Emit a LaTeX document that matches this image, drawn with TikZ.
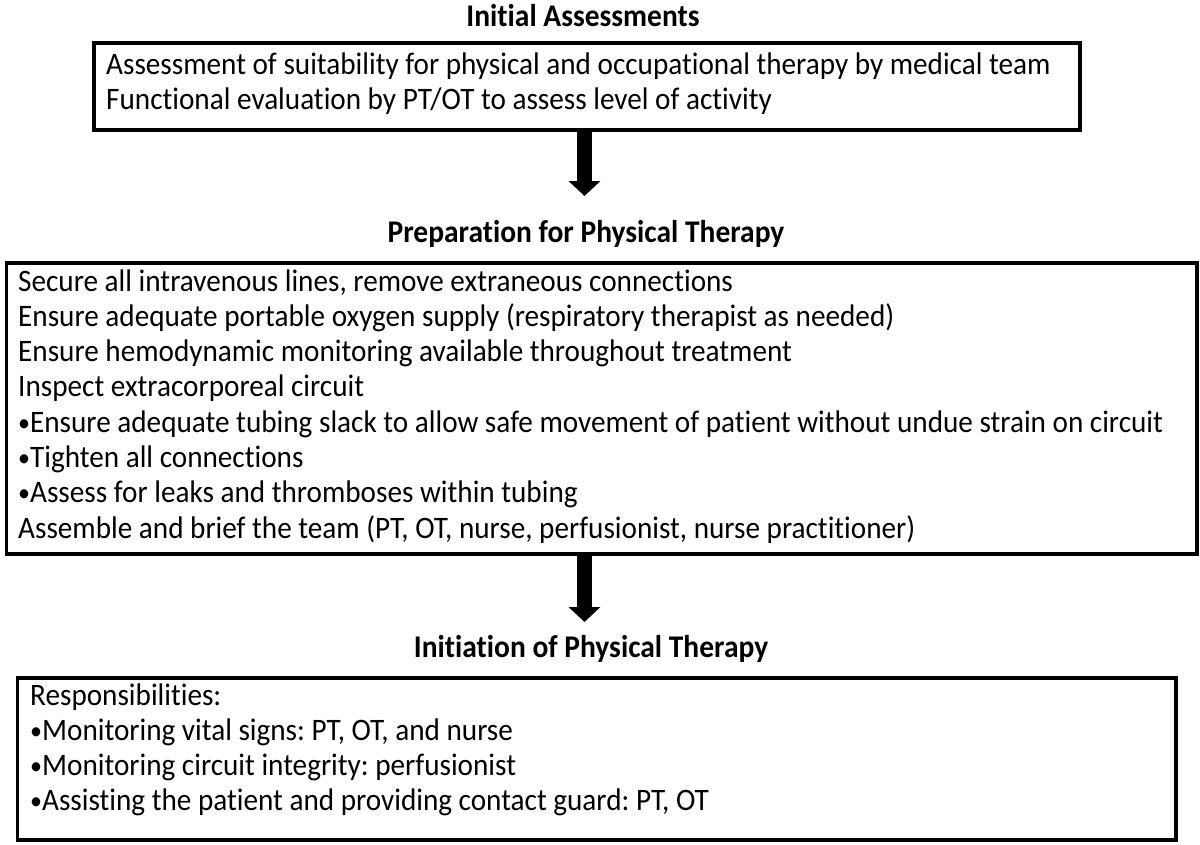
\documentclass[tikz,border=0pt]{standalone}
\usepackage{fontspec}
\setmainfont{Carlito}[Ligatures=NoCommon]
\usetikzlibrary{arrows.meta}
\frenchspacing
\newcommand{\tx}[1]{\scalebox{1}[1.07]{#1}}
\newcommand{\blt}{{\fontsize{24}{24}\selectfont\raisebox{1pt}{•}}}
\begin{document}
\begin{tikzpicture}[x=1pt,y=-1pt,
  box/.style={draw=black, line width=3.5pt, anchor=north west, inner sep=0pt},
  txt/.style={anchor=base west, inner sep=0pt, font=\fontsize{29.2}{35}\selectfont},
  ttl/.style={anchor=base, inner sep=0pt, font=\bfseries\fontsize{29.5}{34}\selectfont},
  flow/.style={line width=15pt, -{Triangle[width=31pt,length=15pt]}}]
\useasboundingbox (0,0) rectangle (1200,844);

% titles
\node[ttl] (t1) at (583,26) {\tx{Initial Assessments}};
\node[ttl] (t2) at (586,242) {\tx{Preparation for Physical Therapy}};
\node[ttl] (t3) at (591,657) {\tx{Initiation of Physical Therapy}};

% boxes
\node[box, minimum width=986pt, minimum height=87pt] (b1) at (92,41) {};
\node[box, minimum width=1190.5pt, minimum height=291pt] (b2) at (4.5,261) {};
\node[box, minimum width=1158.5pt, minimum height=162pt] (b3) at (15.5,676) {};

% box 1 text
\node[txt] (l11) at (106,74) {\tx{Assessment of suitability for physical and occupational therapy by medical team}};
\node[txt] (l12) at (106,109.5) {\tx{Functional evaluation by PT/OT to assess level of activity}};

% box 2 text
\node[txt] (l21) at (18,291) {\tx{Secure all intravenous lines, remove extraneous connections}};
\node[txt] (l22) at (18,326.3) {\tx{Ensure adequate portable oxygen supply (respiratory therapist as needed)}};
\node[txt] (l23) at (18,361.6) {\tx{Ensure hemodynamic monitoring available throughout treatment}};
\node[txt] (l24) at (18,396.9) {\tx{Inspect extracorporeal circuit}};
\node[txt] (l25) at (18,432.2) {\tx{\blt Ensure adequate tubing slack to allow safe movement of patient without undue strain on circuit}};
\node[txt] (l26) at (18,467.5) {\tx{\blt Tighten all connections}};
\node[txt] (l27) at (18,502.8) {\tx{\blt Assess for leaks and thromboses within tubing}};
\node[txt] (l28) at (18,538.1) {\tx{Assemble and brief the team (PT, OT, nurse, perfusionist, nurse practitioner)}};

% box 3 text
\node[txt] (l31) at (30,705) {\tx{Responsibilities:}};
\node[txt] (l32) at (30,740.3) {\tx{\blt Monitoring vital signs: PT, OT, and nurse}};
\node[txt] (l33) at (30,775.6) {\tx{\blt Monitoring circuit integrity: perfusionist}};
\node[txt] (l34) at (30,810.9) {\tx{\blt Assisting the patient and providing contact guard: PT, OT}};

% arrows
\coordinate (a1) at (584.5,196);
\coordinate (a2) at (584.5,622);
\draw[flow] (b1.south -| a1) -- (a1);
\draw[flow] (b2.south -| a2) -- (a2);
\end{tikzpicture}
\end{document}
